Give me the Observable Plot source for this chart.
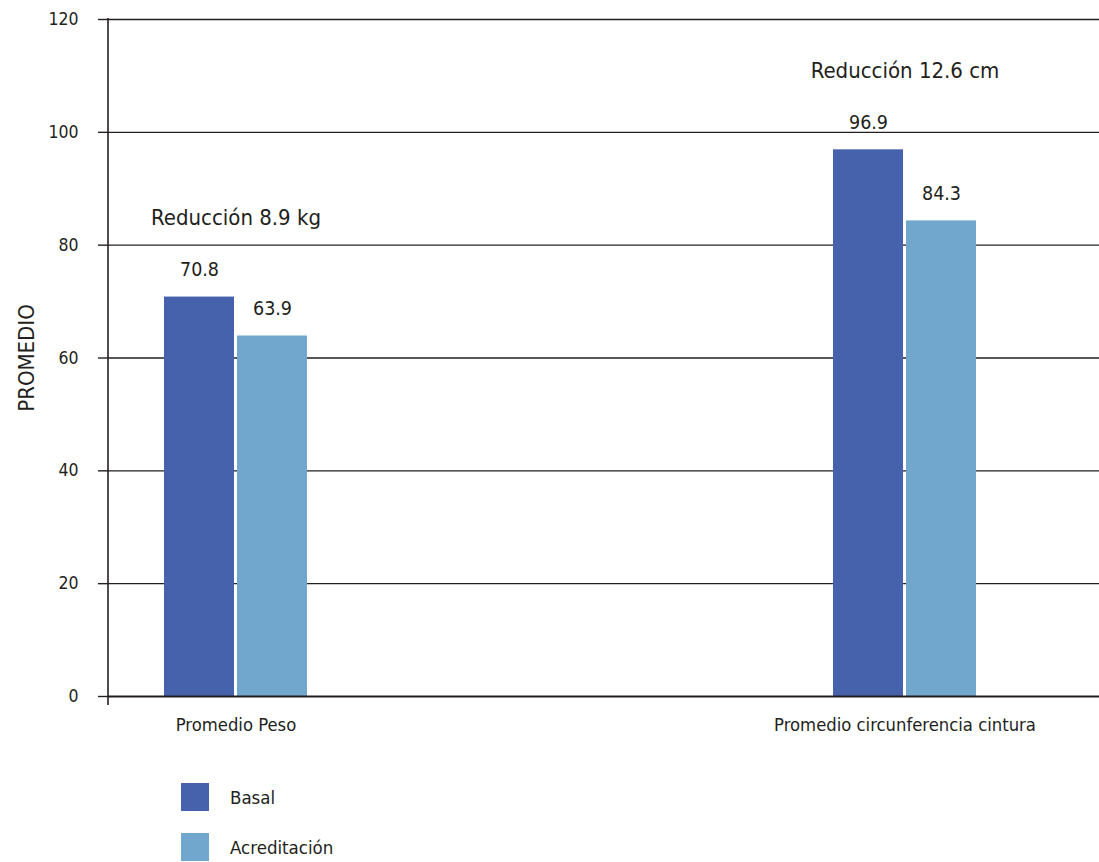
<!DOCTYPE html>
<html lang="es">
<head>
<meta charset="utf-8">
<script src="https://cdn.jsdelivr.net/npm/d3@7"></script>
<script src="https://cdn.jsdelivr.net/npm/@observablehq/plot@0.6"></script>
<style>
  html, body { margin: 0; padding: 0; background: #fff; }
  body { width: 1099px; font-family: "Liberation Sans Narrow", "DejaVu Sans Condensed", "Roboto", sans-serif; color: #231f20; }
  #legend { padding-left: 181px; padding-top: 13px; }
  .item { display: flex; align-items: center; height: 28px; margin-bottom: 22px; font-size: 18.5px; }
  .sw { width: 28px; height: 28px; margin-right: 21px; }
</style>
</head>
<body>
<div id="chart"></div>
<div id="legend"></div>
<script>
// Categories, series and values
const categories = ["Promedio Peso", "Promedio circunferencia cintura"];
const series = ["Basal", "Acreditación"];
const basal = [70.8, 96.9];
const acreditacion = [63.9, 84.3];
const reductions = ["Reducción 8.9 kg", "Reducción 12.6 cm"];
const yTicks = [0, 20, 40, 60, 80, 100, 120];
const colors = ["#4662ac", "#71a6cd"];
const ink = "#231f20";

const rows = categories.flatMap((c, i) => [
  {category: c, series: series[0], value: basal[i]},
  {category: c, series: series[1], value: acreditacion[i]}
]);
const notes = categories.map((c, i) => ({category: c, value: basal[i], text: reductions[i]}));
const ofSeries = s => rows.filter(d => d.series === s);

// Left axis line drawn along the frame edge, slightly past the baseline
const axisLine = (index, scales, values, dims) => {
  const g = document.createElementNS("http://www.w3.org/2000/svg", "line");
  g.setAttribute("x1", dims.marginLeft);
  g.setAttribute("x2", dims.marginLeft);
  g.setAttribute("y1", dims.marginTop - 1);
  g.setAttribute("y2", dims.height - dims.marginBottom + 9);
  g.setAttribute("stroke", ink);
  g.setAttribute("stroke-width", 1.6);
  return g;
};

const chart = Plot.plot({
  width: 1099,
  height: 770,
  marginLeft: 108,
  marginRight: 0,
  marginTop: 19,
  marginBottom: 74,
  style: {fontFamily: "'Liberation Sans Narrow', 'DejaVu Sans Condensed', Roboto, sans-serif", color: ink, background: "#fff"},
  x: {domain: categories, range: [163, 976], paddingInner: 527 / 670, paddingOuter: 0},
  y: {domain: [0, 120]},
  color: {domain: series, range: colors},
  marks: [
    Plot.ruleY(yTicks.filter(v => v > 0), {stroke: ink, strokeWidth: 1.4}),
    Plot.barY(ofSeries(series[0]), {x: "category", y: "value", fill: "series", insetRight: 73}),
    Plot.barY(ofSeries(series[1]), {x: "category", y: "value", fill: "series", insetLeft: 73}),
    Plot.ruleY([0], {stroke: ink, strokeWidth: 2}),
    Plot.text(ofSeries(series[0]), {x: "category", y: "value", text: d => d.value.toFixed(1), dx: -36.5, dy: -27, fontSize: 19.5, fill: ink}),
    Plot.text(ofSeries(series[1]), {x: "category", y: "value", text: d => d.value.toFixed(1), dx: 36.5, dy: -27, fontSize: 19.5, fill: ink}),
    Plot.text(notes, {x: "category", y: "value", text: "text", dy: -79, fontSize: 22, fill: ink}),
    Plot.axisX({tickSize: 0, tickPadding: 21, fontSize: 18.3, label: null}),
    Plot.axisY({ticks: yTicks, tickSize: 10, tickPadding: 20, fontSize: 17.5, label: null, strokeWidth: 1.4}),
    Plot.text(["PROMEDIO"], {frameAnchor: "left", textAnchor: "middle", rotate: -90, dx: -82, fontSize: 22, fill: ink}),
    axisLine
  ]
});
document.getElementById("chart").appendChild(chart);

// Legend built from the same colour scale
const color = chart.scale("color");
const legend = document.getElementById("legend");
color.domain.forEach((s, i) => {
  const item = document.createElement("div");
  item.className = "item";
  const sw = document.createElement("span");
  sw.className = "sw";
  sw.style.background = color.range[i];
  const label = document.createElement("span");
  label.textContent = s;
  item.append(sw, label);
  legend.appendChild(item);
});
</script>
</body>
</html>
